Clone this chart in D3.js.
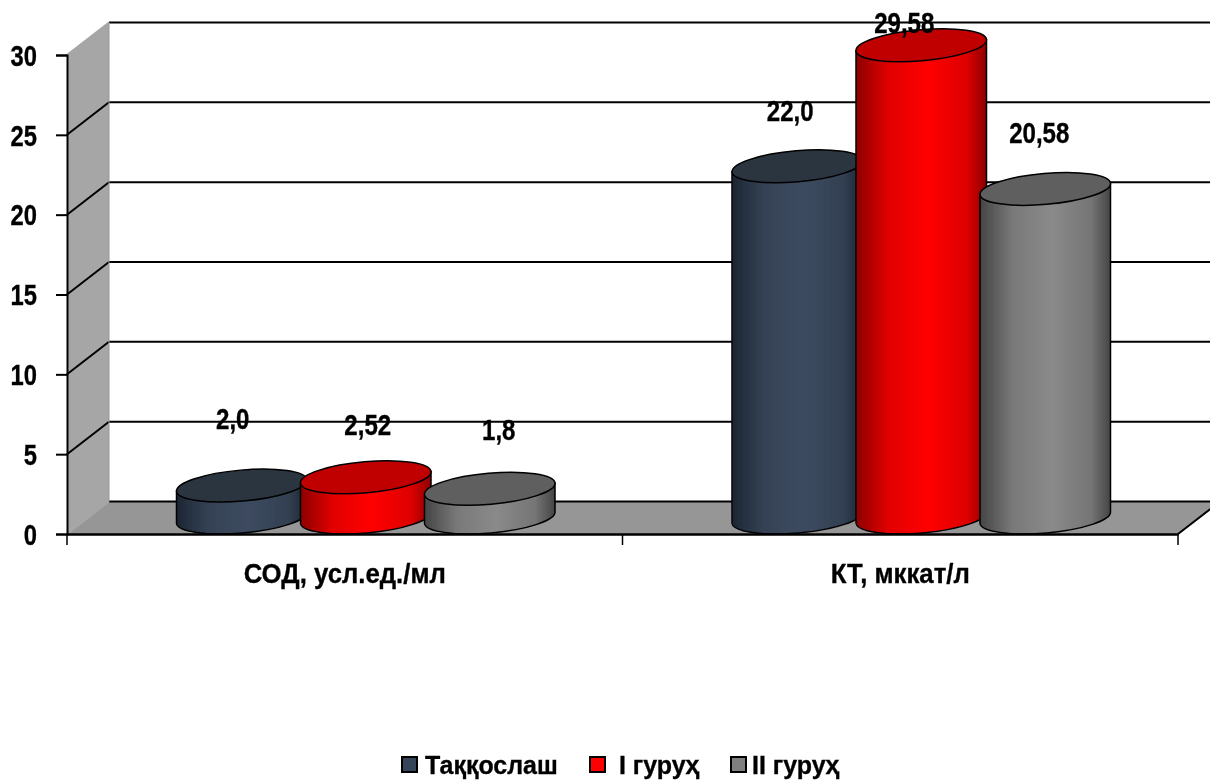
<!DOCTYPE html>
<html>
<head>
<meta charset="utf-8">
<script src="https://cdnjs.cloudflare.com/ajax/libs/d3/7.8.5/d3.min.js"></script>
<style>
body { margin: 0; background: #fff; }
text { font-family: "Liberation Sans", Arial, sans-serif; font-weight: bold; fill: #000; stroke: #000; stroke-width: 0.35px; }
</style>
</head>
<body>
<div id="chart"></div>
<script>
// data
var categories = ["СОД, усл.ед./мл", "КТ, мккат/л"]
var groups = ["Таққослаш", "I гуруҳ", "II гуруҳ"]
var sodValues = [2.0, 2.52, 1.8]
var ktValues = [22.0, 29.58, 20.58]
var sodLabels = ["2,0", "2,52", "1,8"]
var ktLabels = ["22,0", "29,58", "20,58"]
var yTicks = [0, 5, 10, 15, 20, 25, 30]

// layout
var width = 1210, height = 782
var depth = {x: 42, y: -32.5}
var rx = 65.5, ry = 15.5, tilt = -5
var step = 124
// label nudges off the top of each cylinder [dx, dy]
var sodShift = [[-9, -66], [2, -52], [9, -58]]
var ktShift = [[-7, -55], [-17, -22], [-6, -55]]

var colors = [
	{edge: "#1c2633", mid: "#3d4b60", top: "#2a3441"},
	{edge: "#8c0000", mid: "#ff0000", top: "#c00000"},
	{edge: "#454545", mid: "#8a8a8a", top: "#5e5e5e"}
]
var legendFill = ["#364559", "#ff0000", "#7f7f7f"]

var x = d3.scaleBand().domain(categories).range([67, 1178])
var y = d3.scaleLinear().domain([0, 30]).range([534, 55])

var svg = d3.select("#chart").append("svg")
	.attr("width", width)
	.attr("height", height)
	.style("display", "block")

var defs = svg.append("defs")
colors.forEach(function(c, i) {
	var g = defs.append("linearGradient").attr("id", "cyl" + i)
	g.append("stop").attr("offset", "0%").attr("stop-color", c.edge)
	g.append("stop").attr("offset", "25%").attr("stop-color", d3.interpolateRgb(c.edge, c.mid)(0.75))
	g.append("stop").attr("offset", "55%").attr("stop-color", c.mid)
	g.append("stop").attr("offset", "85%").attr("stop-color", d3.interpolateRgb(c.edge, c.mid)(0.7))
	g.append("stop").attr("offset", "100%").attr("stop-color", c.edge)
})
var soft = defs.append("filter").attr("id", "soft")
soft.append("feGaussianBlur").attr("stdDeviation", 0.45)

var x0 = x.range()[0], x1 = x.range()[1], yBase = y(0)

// side wall and floor
svg.append("polygon")
	.attr("points", [[x0, y(30)], [x0 + depth.x, y(30) + depth.y], [x0 + depth.x, yBase + depth.y], [x0, yBase]].join(" "))
	.attr("fill", "#a6a6a6")
svg.append("polygon")
	.attr("points", [[x0, yBase], [x0 + depth.x, yBase + depth.y], [x1 + depth.x, yBase + depth.y], [x1, yBase]].join(" "))
	.attr("fill", "#969696")

// gridlines, back wall plus the slanted bit on the side wall
var grid = svg.append("g").attr("class", "grid").attr("fill", "none").attr("filter", "url(#soft)")
yTicks.forEach(function(t) {
	var yb = y(t) + depth.y
	grid.append("path")
		.attr("d", "M" + (x0 + depth.x) + "," + yb + "H" + (x1 + depth.x))
		.attr("stroke", "#000").attr("stroke-width", 2)
	// top and bottom slants stay grey, the rest are black
	grid.append("path")
		.attr("d", "M" + x0 + "," + y(t) + "L" + (x0 + depth.x) + "," + yb)
		.attr("stroke", (t == 0 || t == 30) ? "#a6a6a6" : "#000")
		.attr("stroke-width", 2)
})
grid.append("path")
	.attr("d", "M" + (x0 + depth.x) + "," + (y(30) + depth.y) + "V" + (yBase + depth.y))
	.attr("stroke", "#999").attr("stroke-width", 1)
// right edge of the floor
grid.append("path")
	.attr("d", "M" + x1 + "," + yBase + "L" + (x1 + depth.x) + "," + (yBase + depth.y))
	.attr("stroke", "#000").attr("stroke-width", 2)

// cylinders
function cylinder(g, cx, value, i) {
	var rad = tilt * Math.PI / 180
	var ex = rx * Math.cos(rad), ey = rx * Math.sin(rad)
	var topY = y(value) - ry - 1, botY = yBase - ry - 1
	var body = "M" + (cx - ex) + "," + (topY - ey)
		+ "L" + (cx - ex) + "," + (botY - ey)
		+ "A" + rx + "," + ry + " " + tilt + " 0 0 " + (cx + ex) + "," + (botY + ey)
		+ "L" + (cx + ex) + "," + (topY + ey) + "Z"
	g.append("path")
		.attr("d", body)
		.attr("fill", "url(#cyl" + i + ")")
		.attr("stroke", "#000").attr("stroke-width", 1.5)
	g.append("ellipse")
		.attr("cx", 0).attr("cy", 0)
		.attr("rx", rx).attr("ry", ry)
		.attr("transform", "translate(" + cx + "," + topY + ") rotate(" + tilt + ")")
		.attr("fill", colors[i].top)
		.attr("stroke", "#000").attr("stroke-width", 1.5)
}

var series = [
	{cat: categories[0], values: sodValues, labels: sodLabels, shift: sodShift},
	{cat: categories[1], values: ktValues, labels: ktLabels, shift: ktShift}
]
var bars = svg.append("g").attr("filter", "url(#soft)")
var labels = svg.append("g").attr("filter", "url(#soft)")
series.forEach(function(s) {
	var mid = x(s.cat) + x.bandwidth() / 2 + depth.x / 2
	s.values.forEach(function(v, i) {
		var cx = mid + (i - 1) * step
		cylinder(bars, cx, v, i)
		labels.append("text")
			.attr("transform", "translate(" + (cx + s.shift[i][0]) + "," + (y(v) - ry + s.shift[i][1] - 2) + ") scale(0.83,1)")
			.attr("dy", "0.36em")
			.attr("text-anchor", "middle")
			.attr("font-size", 29)
			.text(s.labels[i])
	})
})

// axes
var yAxis = d3.axisLeft(y).tickValues(yTicks).tickSize(11)
var gy = svg.append("g").attr("transform", "translate(" + x0 + ",0)").attr("filter", "url(#soft)").call(yAxis)
gy.attr("font-family", null).attr("font-size", null)
gy.selectAll("path,line").attr("stroke", "#000").attr("stroke-width", 2)
gy.selectAll("text")
	.attr("x", 0)
	.attr("dy", "0.35em")
	.attr("transform", "translate(-30,0) scale(0.82,1)")
	.attr("font-size", 29)

var xAxis = d3.axisBottom(x).tickValues(categories).tickSize(0)
var gx = svg.append("g").attr("transform", "translate(0," + yBase + ")").attr("filter", "url(#soft)").call(xAxis)
gx.attr("font-family", null).attr("font-size", null)
gx.select("path").attr("stroke", "#000").attr("stroke-width", 2.5)
gx.selectAll("text")
	.attr("y", 0)
	.attr("dy", 0)
	.attr("transform", "translate(0,49) scale(0.92,1)")
	.attr("font-size", 28)
// ticks sit between the categories
var edgeTicks = [x.range()[0], x.range()[0] + x.step(), x.range()[1]]
gx.selectAll("line.edge").data(edgeTicks).enter().append("line")
	.attr("class", "edge")
	.attr("x1", function(d) { return d }).attr("x2", function(d) { return d })
	.attr("y1", 0).attr("y2", 11)
	.attr("stroke", "#000").attr("stroke-width", 1.5)

// legend
var legendX = d3.scaleOrdinal().domain(groups).range([402, 590, 731])
var legendTextX = d3.scaleOrdinal().domain(groups).range([425, 619, 752])
var legend = svg.append("g").attr("filter", "url(#soft)").selectAll("g").data(groups).enter().append("g")
legend.append("rect")
	.attr("x", function(d) { return legendX(d) })
	.attr("y", 757)
	.attr("width", 15).attr("height", 15)
	.attr("fill", function(d, i) { return legendFill[i] })
	.attr("stroke", "#000").attr("stroke-width", 2)
legend.append("text")
	.attr("transform", function(d) { return "translate(" + legendTextX(d) + ",774) scale(0.96,1)" })
	.attr("font-size", 26)
	.text(function(d) { return d })
</script>
</body>
</html>
